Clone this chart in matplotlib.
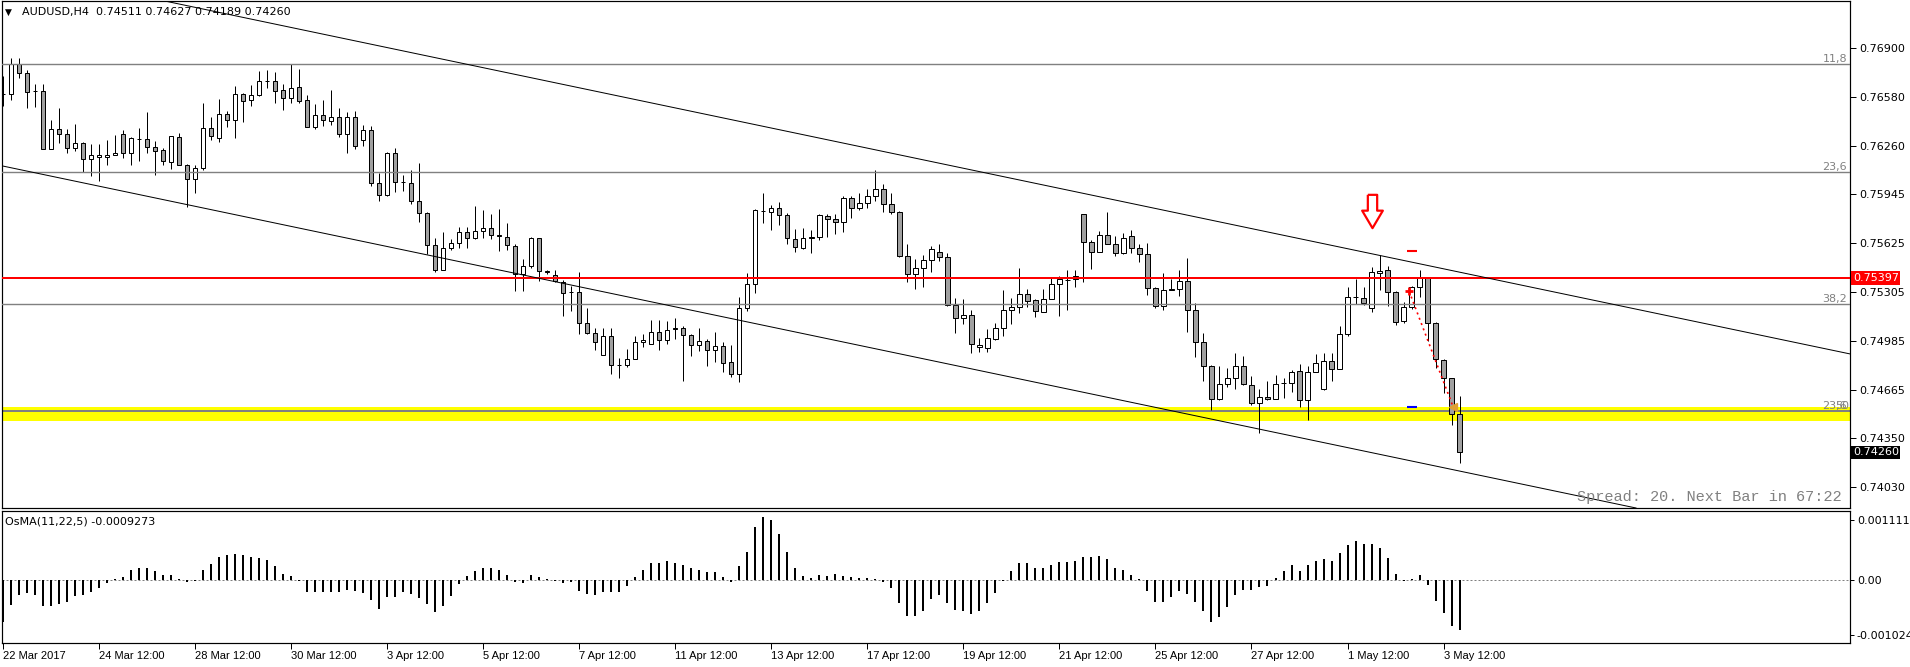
import matplotlib
matplotlib.use('Agg')
import matplotlib.pyplot as plt
import matplotlib.transforms as mtransforms
from matplotlib.path import Path
import numpy as np

# AUDUSD H4 candles, 22 Mar 2017 12:00 .. 3 May 2017 20:00
opens = [0.76598, 0.76602, 0.76798, 0.76739, 0.76620, 0.76620, 0.76243, 0.76374, 0.76341, 0.76249,
         0.76282, 0.76178, 0.76191, 0.76191, 0.76204, 0.76341, 0.76217, 0.76306, 0.76304, 0.76256,
         0.76232, 0.76158, 0.76321, 0.76138, 0.76047, 0.76119, 0.76380, 0.76313, 0.76472, 0.76428,
         0.76602, 0.76563, 0.76591, 0.76687, 0.76683, 0.76628, 0.76576, 0.76648, 0.76559, 0.76387,
         0.76461, 0.76426, 0.76452, 0.76341, 0.76452, 0.76297, 0.76363, 0.76021, 0.75940, 0.76217,
         0.76027, 0.76021, 0.75901, 0.75825, 0.75616, 0.75453, 0.75596, 0.75629, 0.75701, 0.75662,
         0.75707, 0.75725, 0.75679, 0.75669, 0.75608, 0.75423, 0.75477, 0.75656, 0.75444, 0.75418,
         0.75375, 0.75309, 0.75309, 0.75107, 0.75042, 0.74896, 0.75020, 0.74833, 0.74831, 0.74872,
         0.74983, 0.74970, 0.75048, 0.74994, 0.75072, 0.75074, 0.75024, 0.74959, 0.74989, 0.74928,
         0.74955, 0.74852, 0.74774, 0.75205, 0.75357, 0.75838, 0.75832, 0.75852, 0.75812, 0.75651,
         0.75597, 0.75656, 0.75669, 0.75804, 0.75786, 0.75767, 0.75923, 0.75858, 0.75891, 0.75934,
         0.75982, 0.75884, 0.75832, 0.75542, 0.75427, 0.75466, 0.75514, 0.75569, 0.75532, 0.75220,
         0.75135, 0.75155, 0.74950, 0.74939, 0.75002, 0.75074, 0.75187, 0.75211, 0.75296, 0.75253,
         0.75179, 0.75264, 0.75362, 0.75388, 0.75390, 0.75814, 0.75636, 0.75571, 0.75679, 0.75623,
         0.75564, 0.75673, 0.75597, 0.75558, 0.75331, 0.75216, 0.75327, 0.75325, 0.75379, 0.75187,
         0.74983, 0.74824, 0.74606, 0.74709, 0.74748, 0.74824, 0.74700, 0.74584, 0.74624, 0.74611,
         0.74711, 0.74715, 0.74791, 0.74600, 0.74787, 0.74672, 0.74857, 0.74807, 0.75035, 0.75277,
         0.75270, 0.75205, 0.75433, 0.75449, 0.75307, 0.75118, 0.75211, 0.75342, 0.75401, 0.75107,
         0.74863, 0.74743, 0.74511]
highs = [0.76717, 0.76837, 0.76837, 0.76757, 0.76667, 0.76667, 0.76428, 0.76506, 0.76369, 0.76402,
         0.76289, 0.76271, 0.76276, 0.76297, 0.76330, 0.76363, 0.76319, 0.76376, 0.76482, 0.76293,
         0.76245, 0.76328, 0.76343, 0.76145, 0.76138, 0.76539, 0.76452, 0.76565, 0.76489, 0.76652,
         0.76609, 0.76657, 0.76748, 0.76755, 0.76744, 0.76663, 0.76794, 0.76761, 0.76591, 0.76532,
         0.76559, 0.76624, 0.76506, 0.76482, 0.76489, 0.76395, 0.76391, 0.76082, 0.76223, 0.76245,
         0.76069, 0.76101, 0.76147, 0.75829, 0.75662, 0.75699, 0.75651, 0.75733, 0.75733, 0.75868,
         0.75840, 0.75819, 0.75851, 0.75760, 0.75619, 0.75521, 0.75666, 0.75658, 0.75451, 0.75449,
         0.75383, 0.75346, 0.75434, 0.75205, 0.75070, 0.75074, 0.75074, 0.74878, 0.74937, 0.75020,
         0.75031, 0.75124, 0.75122, 0.75118, 0.75140, 0.75085, 0.75035, 0.75074, 0.74998, 0.75048,
         0.74981, 0.74959, 0.75277, 0.75429, 0.75847, 0.75952, 0.75873, 0.75895, 0.75821, 0.75721,
         0.75727, 0.75710, 0.75815, 0.75815, 0.75819, 0.75934, 0.75934, 0.75956, 0.75978, 0.76102,
         0.76010, 0.75956, 0.75836, 0.75619, 0.75521, 0.75547, 0.75608, 0.75619, 0.75564, 0.75270,
         0.75264, 0.75188, 0.75003, 0.75063, 0.75103, 0.75318, 0.75266, 0.75462, 0.75325, 0.75264,
         0.75325, 0.75396, 0.75412, 0.75449, 0.75449, 0.75819, 0.75645, 0.75706, 0.75832, 0.75673,
         0.75695, 0.75710, 0.75618, 0.75629, 0.75336, 0.75433, 0.75390, 0.75449, 0.75531, 0.75238,
         0.75042, 0.74828, 0.74824, 0.74813, 0.74911, 0.74889, 0.74759, 0.74676, 0.74726, 0.74763,
         0.74748, 0.74796, 0.74839, 0.74824, 0.74900, 0.74907, 0.74907, 0.75085, 0.75336, 0.75390,
         0.75340, 0.75473, 0.75549, 0.75477, 0.75314, 0.75244, 0.75346, 0.75449, 0.75405, 0.75111,
         0.74867, 0.74748, 0.74627]
lows = [0.76522, 0.76561, 0.76702, 0.76506, 0.76515, 0.76239, 0.76239, 0.76282, 0.76217, 0.76228,
        0.76093, 0.76064, 0.76032, 0.76136, 0.76199, 0.76180, 0.76136, 0.76162, 0.76217, 0.76071,
        0.76136, 0.76108, 0.76134, 0.75862, 0.75951, 0.76104, 0.76297, 0.76287, 0.76384, 0.76310,
        0.76417, 0.76522, 0.76587, 0.76639, 0.76539, 0.76496, 0.76543, 0.76543, 0.76384, 0.76369,
        0.76391, 0.76397, 0.76321, 0.76217, 0.76239, 0.76260, 0.75999, 0.75901, 0.75934, 0.75960,
        0.75966, 0.75879, 0.75764, 0.75557, 0.75437, 0.75450, 0.75581, 0.75592, 0.75592, 0.75651,
        0.75657, 0.75651, 0.75575, 0.75579, 0.75314, 0.75314, 0.75466, 0.75379, 0.75423, 0.75375,
        0.75151, 0.75183, 0.75035, 0.75031, 0.74928, 0.74894, 0.74770, 0.74748, 0.74820, 0.74868,
        0.74950, 0.74968, 0.74928, 0.74970, 0.74998, 0.74726, 0.74889, 0.74922, 0.74824, 0.74850,
        0.74785, 0.74752, 0.74720, 0.75183, 0.75299, 0.75756, 0.75712, 0.75743, 0.75619, 0.75569,
        0.75590, 0.75564, 0.75647, 0.75669, 0.75688, 0.75701, 0.75793, 0.75843, 0.75852, 0.75902,
        0.75830, 0.75819, 0.75536, 0.75375, 0.75329, 0.75342, 0.75434, 0.75510, 0.75216, 0.75042,
        0.75096, 0.74905, 0.74918, 0.74918, 0.74992, 0.75016, 0.75100, 0.75172, 0.75211, 0.75146,
        0.75177, 0.75259, 0.75150, 0.75190, 0.75342, 0.75373, 0.75455, 0.75568, 0.75618, 0.75542,
        0.75558, 0.75560, 0.75503, 0.75288, 0.75201, 0.75190, 0.75318, 0.75281, 0.75048, 0.74885,
        0.74726, 0.74537, 0.74600, 0.74689, 0.74672, 0.74698, 0.74567, 0.74389, 0.74602, 0.74606,
        0.74617, 0.74656, 0.74556, 0.74469, 0.74785, 0.74667, 0.74726, 0.74802, 0.75016, 0.75227,
        0.75222, 0.75179, 0.75320, 0.75216, 0.75092, 0.75107, 0.75194, 0.75277, 0.74987, 0.74813,
        0.74650, 0.74439, 0.74189]
closes = [0.76602, 0.76798, 0.76739, 0.76615, 0.76617, 0.76243, 0.76374, 0.76341, 0.76249, 0.76282,
          0.76178, 0.76202, 0.76202, 0.76204, 0.76217, 0.76217, 0.76310, 0.76304, 0.76256, 0.76228,
          0.76162, 0.76323, 0.76136, 0.76047, 0.76119, 0.76380, 0.76326, 0.76472, 0.76428, 0.76598,
          0.76556, 0.76591, 0.76687, 0.76683, 0.76622, 0.76576, 0.76641, 0.76554, 0.76387, 0.76461,
          0.76428, 0.76452, 0.76341, 0.76452, 0.76260, 0.76363, 0.76021, 0.75940, 0.76217, 0.76027,
          0.76023, 0.75901, 0.75825, 0.75616, 0.75453, 0.75596, 0.75629, 0.75699, 0.75662, 0.75707,
          0.75727, 0.75682, 0.75675, 0.75612, 0.75423, 0.75477, 0.75656, 0.75444, 0.75434, 0.75379,
          0.75303, 0.75305, 0.75107, 0.75042, 0.74983, 0.75020, 0.74831, 0.74828, 0.74872, 0.74983,
          0.74996, 0.75048, 0.74994, 0.75061, 0.75068, 0.75024, 0.74961, 0.74989, 0.74928, 0.74955,
          0.74846, 0.74774, 0.75205, 0.75357, 0.75841, 0.75834, 0.75852, 0.75812, 0.75662, 0.75601,
          0.75656, 0.75669, 0.75808, 0.75786, 0.75767, 0.75923, 0.75858, 0.75891, 0.75934, 0.75982,
          0.75880, 0.75832, 0.75542, 0.75427, 0.75466, 0.75514, 0.75586, 0.75538, 0.75220, 0.75135,
          0.75155, 0.74966, 0.74961, 0.75009, 0.75074, 0.75187, 0.75211, 0.75296, 0.75248, 0.75183,
          0.75264, 0.75362, 0.75390, 0.75383, 0.75412, 0.75636, 0.75571, 0.75679, 0.75623, 0.75564,
          0.75658, 0.75597, 0.75558, 0.75331, 0.75216, 0.75320, 0.75322, 0.75379, 0.75187, 0.74983,
          0.74824, 0.74606, 0.74709, 0.74748, 0.74824, 0.74704, 0.74580, 0.74624, 0.74606, 0.74709,
          0.74715, 0.74787, 0.74600, 0.74787, 0.74841, 0.74857, 0.74807, 0.75035, 0.75277, 0.75272,
          0.75238, 0.75440, 0.75444, 0.75309, 0.75113, 0.75211, 0.75336, 0.75401, 0.75107, 0.74867,
          0.74743, 0.74508, 0.74260]

# OsMA(11,22,5) histogram, one value per candle
osma = [-0.00077, -0.00046, -0.00028, -0.00025, -0.00028, -0.00049, -0.00048, -0.00045, -0.00040, -0.00030,
        -0.00028, -0.00022, -0.00014, -0.00006, 0.00001, 0.00006, 0.00019, 0.00022, 0.00022, 0.00017,
        0.00010, 0.00009, 0.00001, -0.00003, -0.00002, 0.00019, 0.00029, 0.00043, 0.00046, 0.00049,
        0.00046, 0.00043, 0.00041, 0.00037, 0.00025, 0.00011, 0.00007, -0.00001, -0.00022, -0.00023,
        -0.00022, -0.00022, -0.00022, -0.00019, -0.00020, -0.00025, -0.00037, -0.00054, -0.00032, -0.00031,
        -0.00023, -0.00026, -0.00034, -0.00044, -0.00059, -0.00048, -0.00030, -0.00008, 0.00007, 0.00017,
        0.00022, 0.00022, 0.00019, 0.00009, -0.00003, -0.00006, 0.00009, 0.00006, 0.00001, -0.00002,
        -0.00006, -0.00003, -0.00020, -0.00026, -0.00028, -0.00022, -0.00023, -0.00023, -0.00012, 0.00006,
        0.00019, 0.00032, 0.00032, 0.00036, 0.00032, 0.00028, 0.00022, 0.00019, 0.00014, 0.00014,
        0.00006, -0.00003, 0.00025, 0.00052, 0.00098, 0.00117, 0.00112, 0.00086, 0.00052, 0.00023,
        0.00007, 0.00003, 0.00009, 0.00007, 0.00011, 0.00007, 0.00005, 0.00003, 0.00003, 0.00001,
        -0.00003, -0.00015, -0.00043, -0.00066, -0.00067, -0.00057, -0.00036, -0.00027, -0.00043, -0.00055,
        -0.00058, -0.00063, -0.00058, -0.00043, -0.00024, -0.00001, 0.00017, 0.00031, 0.00031, 0.00022,
        0.00022, 0.00028, 0.00034, 0.00033, 0.00035, 0.00043, 0.00043, 0.00044, 0.00038, 0.00022,
        0.00018, 0.00010, 0.00002, -0.00021, -0.00040, -0.00040, -0.00032, -0.00020, -0.00026, -0.00040,
        -0.00058, -0.00078, -0.00069, -0.00050, -0.00027, -0.00018, -0.00018, -0.00013, -0.00012, 0.00004,
        0.00016, 0.00027, 0.00017, 0.00027, 0.00035, 0.00038, 0.00036, 0.00050, 0.00065, 0.00073,
        0.00067, 0.00067, 0.00059, 0.00041, 0.00012, -0.00001, 0.00001, 0.00010, -0.00009, -0.00038,
        -0.00062, -0.00086, -0.0009273]

date_labels = ['22 Mar 2017', '24 Mar 12:00', '28 Mar 12:00', '30 Mar 12:00', '3 Apr 12:00',
               '5 Apr 12:00', '7 Apr 12:00', '11 Apr 12:00', '13 Apr 12:00', '17 Apr 12:00',
               '19 Apr 12:00', '21 Apr 12:00', '25 Apr 12:00', '27 Apr 12:00', '1 May 12:00',
               '3 May 12:00']
bars_per_label = 12

price_ticks = [0.76900, 0.76580, 0.76260, 0.75945, 0.75625, 0.75305, 0.74985, 0.74665, 0.74350, 0.74030]
osma_ticks = [0.001111, 0.0, -0.001024]
osma_tick_labels = ['0.0011114', '0.00', '-0.001024']

fib_levels = [0.76794, 0.76093, 0.75226]
fib_names = ['11,8', '23,6', '38,2']
zone_low, zone_high, zone_mid = 0.74462, 0.74553, 0.74532
resistance = 0.75397
last_price = 0.74260

# channel anchors (bar index, price)
upper_chan = [(22.1, 0.77186), (183.3, 0.75422)]
lower_chan = [(-0.4, 0.76133), (183.4, 0.74122)]

# trade marks
arrow_pt = (171.0, 0.75838)
trade_path_x = [175.7, 181.2]
trade_path_y = [0.75311, 0.74556]
tp_mark = (176.0, 0.75575)
sl_mark = (176.0, 0.74558)

W, H = 1910, 667
fig = plt.figure(figsize=(W / 100, H / 100), dpi=100)
fig.patch.set_facecolor('white')
ax = fig.add_axes([2 / W, 1 - 508 / H, 1848 / W, 507 / H])
osc = fig.add_axes([2 / W, 1 - 643 / H, 1848 / W, 132 / H], sharex=ax)

px = 0.72  # one pixel in points
n = len(opens)
x = np.arange(n)
o = np.array(opens); hi = np.array(highs); lo = np.array(lows); c = np.array(closes)
up = c >= o

# background objects
ax.axhspan(zone_low, zone_high, color='#ffff00', zorder=1, lw=0)
ax.axhline(zone_mid, color='#808080', lw=2 * px, zorder=1.5)

# candles
ax.vlines(x, lo, hi, color='black', lw=px, zorder=2)
ax.bar(x, np.maximum(np.abs(c - o), 1e-6), bottom=np.minimum(o, c), width=0.52,
       color=np.where(up, 'white', '#a0a0a0'), edgecolor='black', linewidth=px, zorder=3)

for lvl, name in zip(fib_levels, fib_names):
    ax.axhline(lvl, color='#808080', lw=1.4 * px, zorder=4)
    ax.text(0.9985, lvl, name, transform=mtransforms.blended_transform_factory(ax.transAxes, ax.transData),
            ha='right', va='bottom', fontsize=8, color='#808080')
blend = mtransforms.blended_transform_factory(ax.transAxes, ax.transData)
ax.text(0.9985, zone_mid, '23,6', transform=blend, ha='right', va='bottom', fontsize=8, color='#808080')
ax.text(0.9995, zone_mid, '50', transform=blend, ha='right', va='bottom', fontsize=8, color='#808080')

ax.axhline(resistance, color='#ff0000', lw=2 * px, zorder=4)
ax.axline(upper_chan[0], upper_chan[1], color='black', lw=px, zorder=4)
ax.axline(lower_chan[0], lower_chan[1], color='black', lw=px, zorder=4)

# trade annotations
arrow = Path([(-0.28, 1), (0.28, 1), (0.28, 0.05), (0.62, 0.05), (0, -1), (-0.62, 0.05), (-0.28, 0.05), (-0.28, 1)])
ax.plot(*arrow_pt, marker=arrow, ms=24, mfc='white', mec='#ff0000', mew=1.6, zorder=6)
ax.plot(trade_path_x, trade_path_y, color='#ff0000', lw=1.2, ls=(0, (1.2, 2.2)), zorder=6)
ax.plot(trade_path_x[0], trade_path_y[0], marker='+', ms=6, mew=2, color='#ff0000', zorder=7)
ax.plot(trade_path_x[1], trade_path_y[1], marker='<', ms=6, color='#e0a030', zorder=7)
ax.plot(*tp_mark, marker='_', ms=7, mew=1.5, color='#ff0000', zorder=6)
ax.plot(*sl_mark, marker='_', ms=7, mew=1.5, color='#0000ff', zorder=6)

ax.text(0.9955, 0.008, 'Spread: 20. Next Bar in 67:22', transform=ax.transAxes, ha='right', va='bottom',
        fontsize=11, color='#808080', family='Liberation Mono', zorder=8)

ax.set_xlim(-0.16, 230.8)
ax.set_ylim(0.73896, 0.77207)
ax.yaxis.tick_right()
ax.set_yticks(price_ticks)
ax.set_yticklabels(['%.5f' % p for p in price_ticks])
ax.tick_params(axis='y', direction='out', length=4, width=px, labelsize=8, pad=3)
ax.tick_params(axis='x', bottom=False, labelbottom=False)

# price boxes on the scale
ax.text(1.0015, resistance, '%.5f' % resistance, transform=blend, ha='left', va='center', fontsize=8,
        color='white', bbox=dict(boxstyle='square,pad=0.15', fc='#ff0000', ec='none'), clip_on=False, zorder=9)
ax.text(1.0015, last_price, '%.5f' % last_price, transform=blend, ha='left', va='center', fontsize=8,
        color='white', bbox=dict(boxstyle='square,pad=0.15', fc='black', ec='none'), clip_on=False, zorder=9)

# oscillator
osc.bar(x, osma, width=0.25, color='black', zorder=3)
osc.axhline(0, color='#808080', lw=px, ls=(0, (2, 2)), zorder=2)
osc.set_ylim(-0.001167, 0.001278)
osc.yaxis.tick_right()
osc.set_yticks(osma_ticks)
osc.set_yticklabels(osma_tick_labels)
osc.tick_params(axis='y', direction='out', length=3, width=px, labelsize=8, pad=2)
label_pos = np.arange(len(date_labels)) * bars_per_label
osc.set_xticks(label_pos)
osc.set_xticklabels(date_labels, ha='left', family='Liberation Sans')
osc.tick_params(axis='x', direction='out', length=4, width=px, labelsize=8, pad=2)

for a in (ax, osc):
    a.set_facecolor('white')
    for s in a.spines.values():
        s.set_color('black')
        s.set_linewidth(px * 1.2)

fig.text(5 / W, 1 - 12.5 / H, '\u25bc', fontsize=6.5, va='center', ha='left')
fig.text(22 / W, 1 - 12.5 / H, 'AUDUSD,H4  0.74511 0.74627 0.74189 0.74260', fontsize=8, va='center', ha='left')
fig.text(5 / W, 1 - 521 / H, 'OsMA(11,22,5) -0.0009273', fontsize=8, va='center', ha='left')

fig.savefig('out.png', dpi=100)
